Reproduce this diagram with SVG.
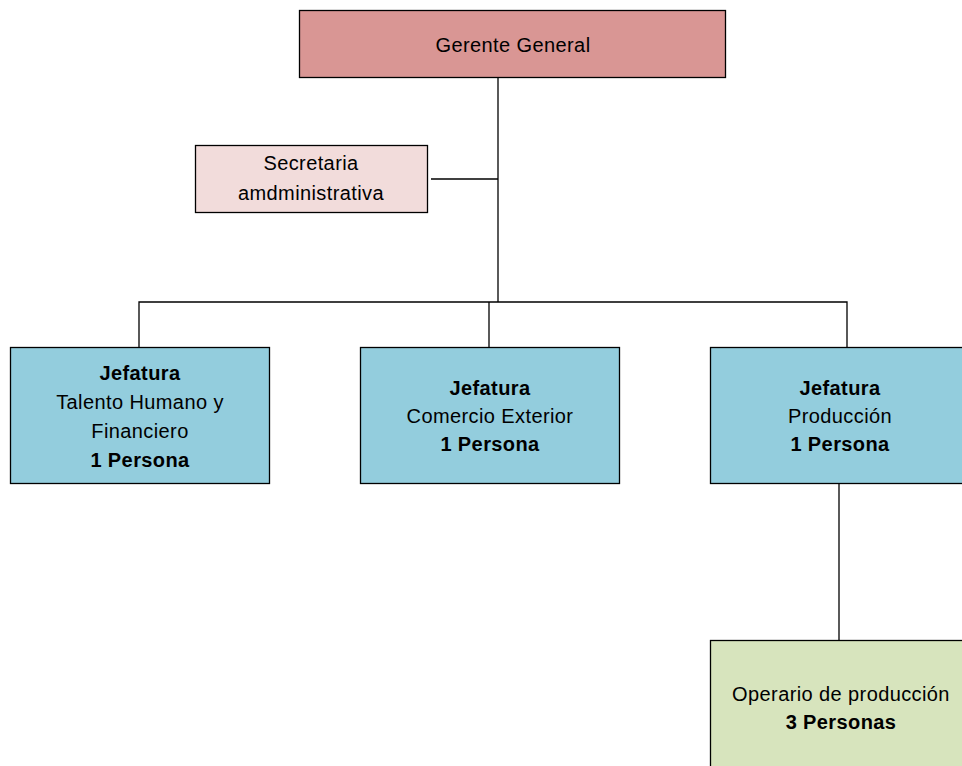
<svg xmlns="http://www.w3.org/2000/svg" width="962" height="766" viewBox="0 0 962 766">
<style>
.box{stroke:#000;stroke-width:1.3}
.t{font-family:"Liberation Sans",Arial,sans-serif;font-size:20px;letter-spacing:0.4px;text-anchor:middle;fill:#000}
.b{font-weight:bold}
.c{fill:none;stroke:#000;stroke-width:1.3}
</style>
<rect width="962" height="766" fill="#fff"/>
<g id="connectors">
<path class="c" d="M498,77 V302"/>
<path class="c" d="M431,179 H498"/>
<path class="c" d="M139,347 V302 H847 V347"/>
<path class="c" d="M489,302 V347"/>
<path class="c" d="M839,483 V640"/>
</g>
<g id="gerente">
<rect class="box" x="299.5" y="10.5" width="426" height="67" fill="#D99694"/>
<text class="t" x="513" y="51.5">Gerente General</text>
</g>
<g id="secretaria">
<rect class="box" x="195.5" y="145.5" width="232" height="67" fill="#F2DCDB"/>
<text class="t" x="311" y="170">Secretaria</text>
<text class="t" x="311" y="200">amdministrativa</text>
</g>
<g id="jef-talento">
<rect class="box" x="10.5" y="347.5" width="259" height="136" fill="#93CDDD"/>
<text class="t b" x="140" y="380">Jefatura</text>
<text class="t" x="140" y="409">Talento Humano y</text>
<text class="t" x="140" y="438">Financiero</text>
<text class="t b" x="140" y="467">1 Persona</text>
</g>
<g id="jef-comercio">
<rect class="box" x="360.5" y="347.5" width="259" height="136" fill="#93CDDD"/>
<text class="t b" x="490" y="395">Jefatura</text>
<text class="t" x="490" y="423">Comercio Exterior</text>
<text class="t b" x="490" y="451">1 Persona</text>
</g>
<g id="jef-produccion">
<rect class="box" x="710.5" y="347.5" width="259" height="136" fill="#93CDDD"/>
<text class="t b" x="840" y="395">Jefatura</text>
<text class="t" x="840" y="423">Producción</text>
<text class="t b" x="840" y="451">1 Persona</text>
</g>
<g id="operario">
<rect class="box" x="710.5" y="640.5" width="259" height="136" fill="#D7E4BD"/>
<text class="t" x="841" y="701">Operario de producción</text>
<text class="t b" x="841" y="729">3 Personas</text>
</g>
</svg>
